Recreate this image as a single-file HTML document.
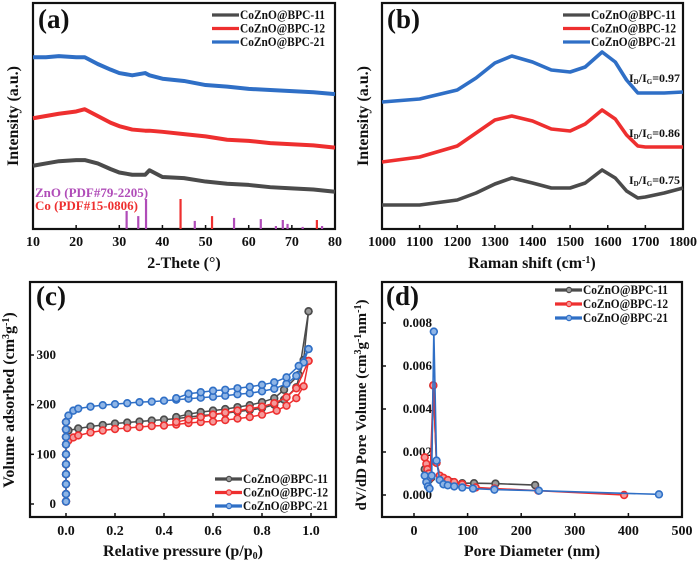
<!DOCTYPE html>
<html><head><meta charset="utf-8"><style>
html,body{margin:0;padding:0;background:#fff;width:700px;height:563px;overflow:hidden}
svg text{font-family:"Liberation Serif",serif;font-weight:bold;fill:#111}
</style></head><body>
<svg id="fig" width="700" height="563" xmlns="http://www.w3.org/2000/svg"></svg>
<script>
// ---------- Data ----------
// (a) XRD
const xrdX = [10,13,16,20,22,25,28,30,33,36,37,40,45,50,55,60,65,70,75,80];
const xrdBlue = [76,76,76.5,76,76,73,70.5,69,68,69,68,66.5,65.5,63.7,63,62,61.5,61,60.5,59.7];
const xrdRed  = [49,50,51,52,53,50,47,45.5,44,43.5,43.5,43,42,41,39.5,39,38,37.5,37,36];
const xrdGray = [28,29,30,30.5,30.5,29,26.5,25,24,24,26,23,22.5,21,20,19.5,18.5,18,17.5,16.5];
const znoPos = [31.7,34.4,36.2,47.5,56.6,62.8,66.3,67.9,69.0,72.5,77.0];
const znoInt = [60,43,100,27,37,33,10,30,17,7,10];
const coPos = [44.2,51.5,75.8];
const coInt = [100,43,30];
// (b) Raman
const ramX = [1000,1100,1200,1250,1300,1345,1400,1450,1500,1540,1585,1620,1650,1680,1700,1750,1800];
const ramBlue = [127,130,139,151,166,173,167,159,157,162,177,167,149,136,136,136,137];
const ramRed  = [67,72,83,96,109,113,108,100,98,105,119,110,94,83,82,82,82];
const ramGray = [24,24,29,36,45,51,46,41,41,46,59,51,38,31,32,36,41];
const ratioLabels = ["0.97","0.86","0.75"];
const ratioY = [151,96,49];
// (c) BET isotherms
const betLowP = [0,0,0,0,0,0,0,0,0,0];
const betLowV = [5,20,40,60,80,100,120,135,150,165];
const grayAdsP = [0.01,0.05,0.1,0.15,0.2,0.25,0.3,0.35,0.4,0.45,0.5,0.55,0.6,0.65,0.7,0.75,0.8,0.85,0.89,0.94,0.97,0.99];
const grayAdsV = [148,152,156,159,162,164,166,168,170,172,175,178,180,183,186,189,193,200,210,235,290,388];
const grayDesP = [0.99,0.95,0.89,0.85,0.8,0.75,0.7,0.65,0.6,0.55,0.5,0.45];
const grayDesV = [388,260,230,213,205,199,195,191,188,185,181,175];
const redAdsP = [0.01,0.03,0.05,0.1,0.15,0.2,0.25,0.3,0.35,0.4,0.45,0.5,0.55,0.6,0.65,0.7,0.75,0.8,0.86,0.9,0.94,0.97,0.99];
const redAdsV = [128,134,138,144,148,151,153,155,157,158,160,163,165,166,169,172,175,180,188,198,213,237,288];
const redDesP = [0.99,0.94,0.9,0.85,0.8,0.75,0.7,0.65,0.6,0.55,0.5,0.45];
const redDesV = [288,233,215,203,196,192,188,184,180,175,170,165];
const blueAdsP = [0.01,0.03,0.05,0.1,0.15,0.2,0.25,0.3,0.35,0.4,0.45,0.5,0.55,0.6,0.65,0.7,0.75,0.8,0.85,0.9,0.94,0.97,0.99];
const blueAdsV = [178,188,192,196,199,201,203,205,206,208,210,212,214,216,218,221,223,227,232,242,258,285,312];
const blueDesP = [0.99,0.95,0.9,0.85,0.8,0.75,0.7,0.65,0.6,0.55,0.5,0.45];
const blueDesV = [312,278,255,245,240,236,233,230,228,225,222,213];
// (d) Pore size distribution
const grayD = [20,24,28,32,36,42,50,70,90,112,152,226];
const grayPV = [0.0012,0.0010,0.0007,0.0008,0.0051,0.0015,0.0008,0.0006,0.00055,0.00055,0.00053,0.00046];
const redD = [20,23,25,28,30,36,42,48,55,63,75,90,115,150,232,392];
const redPV = [0.00175,0.00145,0.0012,0.0010,0.0008,0.0051,0.0015,0.0009,0.0008,0.0007,0.0006,0.0005,0.00035,0.0003,0.0002,0.0];
const blueD = [20,23,26,29,33,37,42,48,55,63,75,90,110,150,233,457];
const bluePV = [0.0009,0.0006,0.0004,0.0003,0.0009,0.0076,0.0016,0.0007,0.0005,0.00045,0.0004,0.00035,0.0003,0.00025,0.0002,0.00003];
const seriesNames = ["CoZnO@BPC-11","CoZnO@BPC-12","CoZnO@BPC-21"];

// ---------- Helpers ----------
const NS="http://www.w3.org/2000/svg";
const svg=document.getElementById('fig');
const GRAY="#4b4b4b",RED="#ee2f2f",BLUE="#2f6fc6",PURPLE="#b04cb8";
const TINT={"#4b4b4b":"#9a9a9a","#ee2f2f":"#f59a9a","#2f6fc6":"#8fb5e6"};
function mk(tag,attrs,parent){const e=document.createElementNS(NS,tag);for(const k in attrs)e.setAttribute(k,attrs[k]);(parent||svg).appendChild(e);return e;}
function scale(d0,d1,r0,r1){return v=>r0+(v-d0)/(d1-d0)*(r1-r0);}
function txt(x,y,s,size,anchor,g,rot){const t=mk('text',{x:x,y:y,'font-size':size,'text-anchor':anchor||'middle'},g);if(rot)t.setAttribute('transform','rotate(-90 '+x+' '+y+')');t.innerHTML=s;return t;}
function frame(g,x0,y0,x1,y1){const r=mk('rect',{x:x0,y:y0,width:x1-x0,height:y1-y0,fill:'none',stroke:'#111','stroke-width':2.2},g);}
function xticks(g,sx,ticks,y1,ly,fmt){ticks.forEach(v=>{mk('line',{x1:sx(v),x2:sx(v),y1:y1,y2:y1-4,stroke:'#111','stroke-width':1.5},g);const t=txt(sx(v),ly,fmt?fmt(v):v,14,'middle',g);});}
function yticks(g,sy,ticks,x0,lx,fmt){ticks.forEach(v=>{mk('line',{x1:x0,x2:x0+4,y1:sy(v),y2:sy(v),stroke:'#111','stroke-width':1.5},g);const t=txt(lx,sy(v)+4,fmt?fmt(v):v,13,'end',g);});}
function line(g,xs,ys,sx,sy,color,w,name){const p=mk('polyline',{points:xs.map((x,i)=>sx(x)+','+sy(ys[i])).join(' '),fill:'none',stroke:color,'stroke-width':w,'stroke-linejoin':'round'},g);return p;}
function markers(g,xs,ys,sx,sy,color,name){xs.forEach((x,i)=>{const c=mk('circle',{cx:sx(x),cy:sy(ys[i]),r:3.4,fill:TINT[color],stroke:color,'stroke-width':1.6},g);});}
function legend(g,x,y,dy,colors,withMarker){seriesNames.forEach((n,i)=>{const e=mk('g',{},g);mk('line',{x1:x,x2:x+27,y1:y+i*dy-4,y2:y+i*dy-4,stroke:colors[i],'stroke-width':3.2},e);if(withMarker)mk('circle',{cx:x+14,cy:y+i*dy-4,r:2.6,fill:TINT[colors[i]],stroke:colors[i],'stroke-width':1.3},e);const t=txt(x+28,y+i*dy,n,13,'start',e);t.setAttribute('textLength','85');t.setAttribute('lengthAdjust','spacingAndGlyphs');});}
function group(name){const g=mk('g',{});return g;}
function panelLabel(g,x,y,s){const t=txt(x,y,s,27,'start',g);}

// ---------- (a) ----------
{const g=group('panel-a-xrd');
const sx=scale(10,80,33,335), sy=scale(0,100,229,3);
frame(g,33,3,335,229);
xticks(g,sx,[10,20,30,40,50,60,70,80],229,246);
znoPos.forEach((p,i)=>{const l=mk('line',{x1:sx(p),x2:sx(p),y1:229,y2:229-znoInt[i]*0.3,stroke:PURPLE,'stroke-width':2.2},g);});
coPos.forEach((p,i)=>{const l=mk('line',{x1:sx(p),x2:sx(p),y1:229,y2:229-coInt[i]*0.3,stroke:RED,'stroke-width':2.2},g);});
line(g,xrdX,xrdGray,sx,sy,GRAY,4,'xrd-bpc11');
line(g,xrdX,xrdRed,sx,sy,RED,4,'xrd-bpc12');
line(g,xrdX,xrdBlue,sx,sy,BLUE,4,'xrd-bpc21');
let t=txt(35,197,'ZnO (PDF#79-2205)',13,'start',g);t.style.fill=PURPLE;
t=txt(35,210,'Co (PDF#15-0806)',13,'start',g);t.style.fill=RED;
legend(g,212,19,13.5,[GRAY,RED,BLUE],false);
panelLabel(g,38,28,'(a)');
t=txt(184,268,'2-Thete (°)',16,'middle',g);
t=txt(18,116,'Intensity (a.u.)',16,'middle',g,true);}

// ---------- (b) ----------
{const g=group('panel-b-raman');
const sx=scale(1000,1800,382,683), sy=scale(0,226,229,3);
frame(g,382,3,683,229);
xticks(g,sx,[1000,1100,1200,1300,1400,1500,1600,1700,1800],229,246);
line(g,ramX,ramGray,sx,sy,GRAY,3.6,'raman-bpc11');
line(g,ramX,ramRed,sx,sy,RED,3.6,'raman-bpc12');
line(g,ramX,ramBlue,sx,sy,BLUE,3.6,'raman-bpc21');
ratioLabels.forEach((r,i)=>{const t=txt(629,sy(ratioY[i])+4,'I<tspan font-size="7" dy="2">D</tspan><tspan dy="-2">/I</tspan><tspan font-size="7" dy="2">G</tspan><tspan dy="-2">='+r+'</tspan>',12,'start',g);});
legend(g,563,19,13.5,[GRAY,RED,BLUE],false);
panelLabel(g,387,28,'(b)');
let t=txt(532,268,'Raman shift (cm<tspan font-size="10" dy="-5">-1</tspan><tspan dy="5">)</tspan>',16,'middle',g);
t=txt(368,116,'Intensity (a.u.)',16,'middle',g,true);}

// ---------- (c) ----------
{const g=group('panel-c-isotherm');
const sx=scale(0,1,66,311), sy=scale(0,300,504,355);
frame(g,30,282,336,517);
xticks(g,sx,[0,0.2,0.4,0.6,0.8,1.0],517,535,v=>v.toFixed(1));
yticks(g,sy,[0,100,200,300],30,56);
const sets=[[grayAdsP,grayAdsV,grayDesP,grayDesV,GRAY,'bpc11'],[redAdsP,redAdsV,redDesP,redDesV,RED,'bpc12'],[blueAdsP,blueAdsV,blueDesP,blueDesV,BLUE,'bpc21']];
sets.forEach(s=>{const ax=betLowP.concat(s[0]),ay=betLowV.concat(s[1]);
line(g,ax,ay,sx,sy,s[4],1.5,'adsorption-'+s[5]);line(g,s[2],s[3],sx,sy,s[4],1.5,'desorption-'+s[5]);
markers(g,ax,ay,sx,sy,s[4],'adsorption-point-'+s[5]);markers(g,s[2],s[3],sx,sy,s[4],'desorption-point-'+s[5]);});
legend(g,215,483,13.5,[GRAY,RED,BLUE],true);
panelLabel(g,36,305,'(c)');
let t=txt(183,556,'Relative pressure (p/p<tspan font-size="10" dy="3">0</tspan><tspan dy="-3">)</tspan>',16,'middle',g);
t=txt(14,400,'Volume adsorbed (cm<tspan font-size="10" dy="-5">3</tspan><tspan dy="5">g</tspan><tspan font-size="10" dy="-5">-1</tspan><tspan dy="5">)</tspan>',16,'middle',g,true);}

// ---------- (d) ----------
{const g=group('panel-d-pore-size');
const sx=scale(0,500,414,682), sy=scale(0,0.008,495,323);
frame(g,382,282,682,517);
xticks(g,sx,[0,100,200,300,400,500],517,535);
yticks(g,sy,[0,0.002,0.004,0.006,0.008],382,432,v=>v.toFixed(3));
[[grayD,grayPV,GRAY,'bpc11'],[redD,redPV,RED,'bpc12'],[blueD,bluePV,BLUE,'bpc21']].forEach(s=>{line(g,s[0],s[1],sx,sy,s[2],1.6,'pore-line-'+s[3]);markers(g,s[0],s[1],sx,sy,s[2],'pore-point-'+s[3]);});
legend(g,555,294,14,[GRAY,RED,BLUE],true);
panelLabel(g,386,305,'(d)');
let t=txt(532,556,'Pore Diameter (nm)',16,'middle',g);
t=txt(366,405,'dV/dD Pore Volume (cm<tspan font-size="10" dy="-5">3</tspan><tspan dy="5">g</tspan><tspan font-size="10" dy="-5">-1</tspan><tspan dy="5">nm</tspan><tspan font-size="10" dy="-5">-1</tspan><tspan dy="5">)</tspan>',15,'middle',g,true);}
</script>
</body></html>
